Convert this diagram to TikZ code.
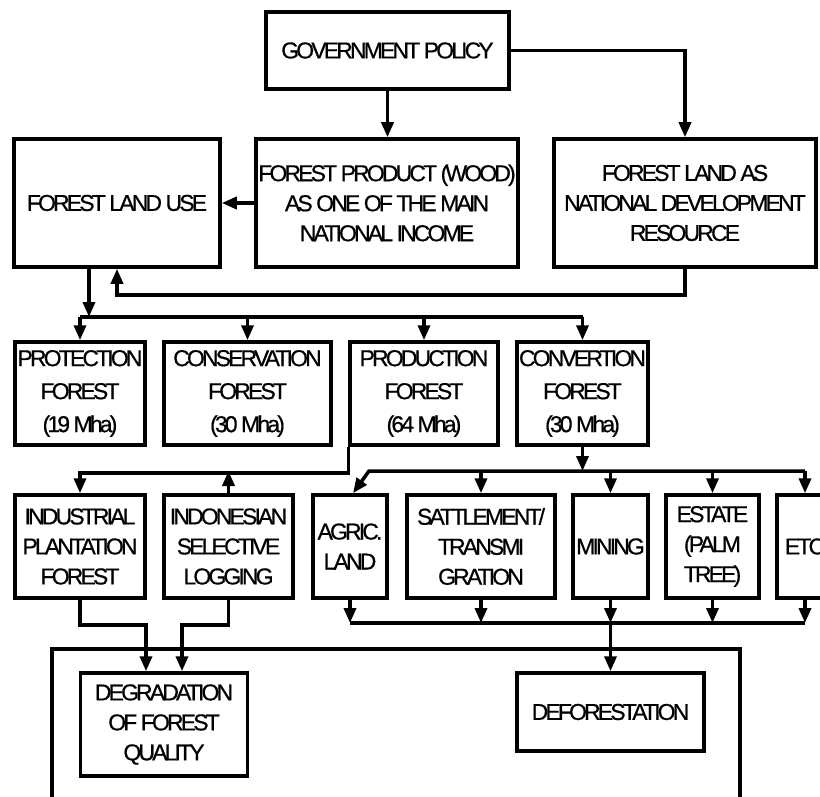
\documentclass[tikz,border=0pt]{standalone}
\usepackage{fontspec}
\setmainfont{Liberation Sans}[LetterSpace=-12.5, FakeBold=0.6]
\usetikzlibrary{arrows.meta}

\begin{document}
\begin{tikzpicture}[x=1pt,y=-1pt,
  box/.style={draw, line width=3.5pt, inner sep=0pt, align=center,
    font=\fontsize{23}{30}\selectfont},
  ln/.style={line width=3.5pt, line join=miter},
  arr/.style={ln, -{Triangle[length=15pt,width=12pt]}}]
  \useasboundingbox (0,0) rectangle (820,797);
  \clip (0,0) rectangle (820,797);
  % policy level
  \node[box, minimum width=243pt, minimum height=77pt] (gov) at (387.5,50.5) {GOVERNMENT POLICY};
  \node[box, minimum width=206pt, minimum height=128pt] (landuse) at (117,203) {FOREST LAND USE};
  \node[box, minimum width=262pt, minimum height=128pt] (product) at (387,203) {FOREST PRODUCT (WOOD)\\AS ONE OF THE MAIN\\NATIONAL INCOME};
  \node[box, minimum width=262pt, minimum height=128pt] (landdev) at (685,203) {FOREST LAND AS\\NATIONAL DEVELOPMENT\\RESOURCE};
  \coordinate (bus1) at (0,317);
  \coordinate (bus2) at (0,471);
  \coordinate (bus3) at (0,623);
  % forest functions
  \node[box, font=\fontsize{23}{33}\selectfont, minimum width=130pt, minimum height=103pt] (protect) at (80,393.5) {PROTECTION\\FOREST\\(19 Mha)};
  \node[box, font=\fontsize{23}{33}\selectfont, minimum width=167pt, minimum height=103pt] (conserve) at (247.5,393.5) {CONSERVATION\\FOREST\\(30 Mha)};
  \node[box, font=\fontsize{23}{33}\selectfont, minimum width=148pt, minimum height=103pt] (produce) at (424,393.5) {PRODUCTION\\FOREST\\(64 Mha)};
  \node[box, font=\fontsize{23}{33}\selectfont, minimum width=131pt, minimum height=103pt] (convert) at (582.5,393.5) {CONVERTION\\FOREST\\(30 Mha)};
  % uses
  \node[box, minimum width=130pt, minimum height=103pt] (industrial) at (80,546.5) {INDUSTRIAL\\PLANTATION\\FOREST};
  \node[box, minimum width=129pt, minimum height=103pt] (selective) at (228.5,546.5) {INDONESIAN\\SELECTIVE\\LOGGING};
  \node[box, minimum width=74pt, minimum height=103pt] (agric) at (350,546.5) {AGRIC.\\LAND};
  \node[box, minimum width=148pt, minimum height=103pt] (settle) at (481,546.5) {SATTLEMENT/\\TRANSMI\\GRATION};
  \node[box, minimum width=75pt, minimum height=103pt] (mining) at (610.5,546.5) {MINING};
  \node[box, minimum width=93pt, minimum height=103pt] (estate) at (712.5,546.5) {ESTATE\\(PALM\\TREE)};
  \node[box, minimum width=56pt, minimum height=103pt] (others) at (805,546.5) {ETC};
  % results
  \draw[ln] (52,830) -- (52,649) -- (740,649) -- (740,830);
  \node[box, minimum width=167pt, minimum height=103pt] (degrade) at (164,724.5) {DEGRADATION\\OF FOREST\\QUALITY};
  \node[box, minimum width=187pt, minimum height=78pt] (deforest) at (610.5,712) {DEFORESTATION};
  % connectors
  \draw[arr] (gov.south) -- (gov.south |- product.north);
  \draw[arr] (gov.east) -| (landdev.north);
  \draw[arr] (product.west) -- (landuse.east);
  \draw[arr] (landdev.south) -- ++(0,26) -| (landuse.south);
  \draw[arr] ([xshift=-28pt]landuse.south) -- ([xshift=-28pt]landuse.south |- bus1);
  \draw[ln] (protect.north |- bus1) -- (convert.north |- bus1);
  \foreach \n in {protect,conserve,produce,convert} \draw[arr] (\n.north |- bus1) -- (\n.north);
  \draw[arr] (produce.south west) -- ++(0,26) -| (industrial.north);
  \draw[arr] (selective.north) -- (selective.north |- bus2);
  \draw[arr] (convert.south) -- (convert.south |- bus2);
  \draw[arr] (others.north |- bus2) -- ([xshift=19pt]agric.north |- bus2) -- ([xshift=3pt]agric.north);
  \foreach \n in {settle,mining,estate,others} \draw[arr] (\n.north |- bus2) -- (\n.north);
  \foreach \n in {agric,settle,mining,estate,others} \draw[arr] (\n.south) -- (\n.south |- bus3);
  \draw[ln] (agric.south |- bus3) -- (others.south |- bus3);
  \draw[arr] (mining.south |- bus3) -- (deforest.north);
  \draw[arr] (industrial.south) -- ++(0,25) -| ([xshift=-18pt]degrade.north);
  \draw[arr] (selective.south) -- ++(0,25) -| ([xshift=18pt]degrade.north);
\end{tikzpicture}
\end{document}
